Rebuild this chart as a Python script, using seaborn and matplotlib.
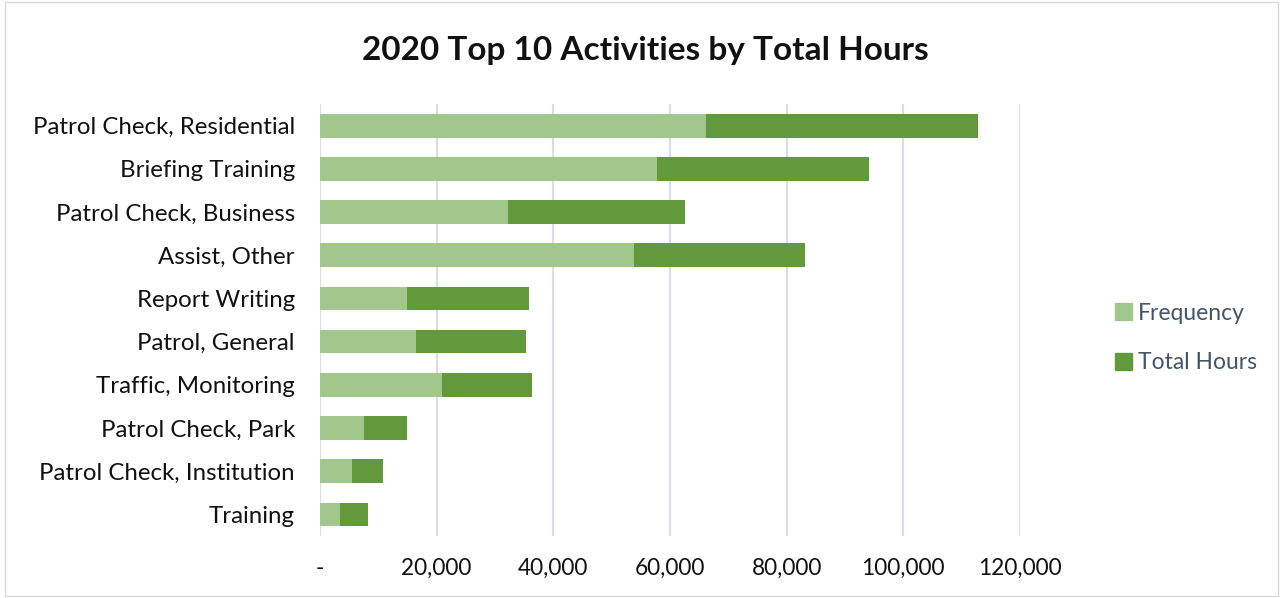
import pandas as pd
import seaborn as sns
import matplotlib.pyplot as plt
from matplotlib.patches import Patch, Rectangle
from matplotlib.ticker import FuncFormatter

activities = ['Patrol Check, Residential', 'Briefing Training', 'Patrol Check, Business',
              'Assist, Other', 'Report Writing', 'Patrol, General', 'Traffic, Monitoring',
              'Patrol Check, Park', 'Patrol Check, Institution', 'Training']
frequency = [66100, 57800, 32200, 53900, 14900, 16500, 21000, 7600, 5500, 3500]
total_hours = [46700, 36400, 30400, 29200, 21000, 18900, 15300, 7300, 5300, 4700]

df = pd.DataFrame({'activity': activities, 'Frequency': frequency, 'Total Hours': total_hours})
df['stacked'] = df['Frequency'] + df['Total Hours']

FREQ_COL = '#a2c78c'
HOURS_COL = '#62993a'
TEXT_COL = '#44546a'

sns.set_style('white')
plt.rcParams['font.family'] = ['Lato', 'DejaVu Sans']

fig = plt.figure(figsize=(12.83, 5.98), dpi=100)
ax = fig.add_axes([0.2494, 0.1037, 0.5456, 0.7223])

# stacked bars: draw the total first, frequency over it
sns.barplot(data=df, y='activity', x='stacked', color=HOURS_COL, width=0.55,
            orient='h', ax=ax, saturation=1, linewidth=0)
sns.barplot(data=df, y='activity', x='Frequency', color=FREQ_COL, width=0.55,
            orient='h', ax=ax, saturation=1, linewidth=0)

ax.set_xlim(0, 120000)
ax.set_xticks(range(0, 120001, 20000))
ax.xaxis.set_major_formatter(FuncFormatter(lambda v, p: '-' if v == 0 else f'{int(v):,}'))
ax.grid(axis='x', color='#d9dde4', linewidth=1.5)
ax.set_axisbelow(True)
for s in ax.spines.values():
    s.set_visible(False)
ax.tick_params(axis='both', length=0)
ax.tick_params(axis='y', labelsize=17.3, labelcolor='#111111', pad=18)
ax.tick_params(axis='x', labelsize=16.3, labelcolor='#111111', pad=16)
ax.set_xlabel('')
ax.set_ylabel('')

fig.text(0.503, 0.915, '2020 Top 10 Activities by Total Hours', ha='center', va='center',
         fontsize=24, fontweight='bold', color='#111111')

handles = [Patch(color=FREQ_COL, label='Frequency'), Patch(color=HOURS_COL, label='Total Hours')]
fig.legend(handles=handles, loc='center left', bbox_to_anchor=(0.853, 0.435), frameon=False,
           fontsize=16.5, labelcolor=TEXT_COL, handlelength=0.75, handleheight=0.75,
           handletextpad=0.25, labelspacing=1.25)

fig.patches.append(Rectangle((0.004, 0.004), 0.992, 0.992, transform=fig.transFigure,
                             fill=False, edgecolor='#d9d9d9', linewidth=1))

plt.savefig('out.png', dpi=100)
